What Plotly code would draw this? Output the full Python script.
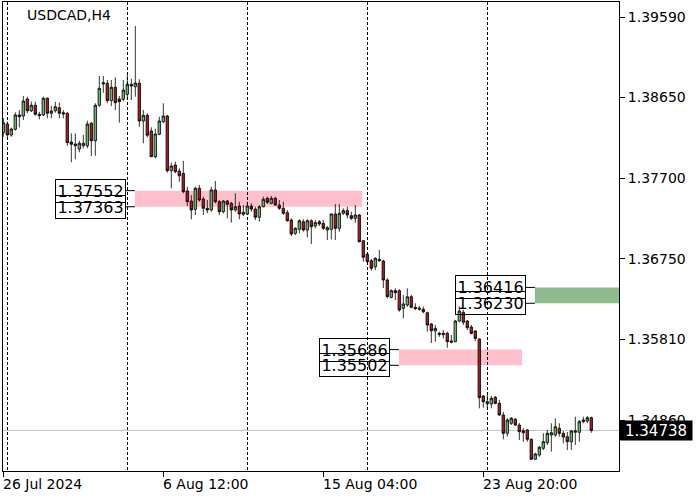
import plotly.graph_objects as go

symbol_title = "USDCAD,H4"

opens = [1.38232, 1.38334, 1.38205, 1.38272, 1.38440, 1.38428, 1.38628, 1.38490, 1.38554, 1.38448,
         1.38440, 1.38636, 1.38460, 1.38490, 1.38525, 1.38467, 1.38460, 1.38123, 1.38099, 1.38041,
         1.38079, 1.38079, 1.38342, 1.38138, 1.38554, 1.38804, 1.38812, 1.38608, 1.38765, 1.38628,
         1.38624, 1.38683, 1.38800, 1.38772, 1.38812, 1.38369, 1.38436, 1.38252, 1.37950, 1.38213,
         1.38361, 1.38428, 1.37786, 1.37853, 1.37782, 1.37754, 1.37548, 1.37430, 1.37333, 1.37579,
         1.37454, 1.37345, 1.37325, 1.37560, 1.37422, 1.37305, 1.37430, 1.37403, 1.37325, 1.37372,
         1.37274, 1.37278, 1.37372, 1.37336, 1.37239, 1.37363, 1.37462, 1.37403, 1.37462, 1.37383,
         1.37345, 1.37293, 1.37207, 1.37051, 1.37098, 1.37187, 1.37090, 1.37199, 1.37137, 1.37187,
         1.37168, 1.37090, 1.37098, 1.37278, 1.37110, 1.37286, 1.37317, 1.37258, 1.37227, 1.37266,
         1.36964, 1.36805, 1.36730, 1.36659, 1.36746, 1.36726, 1.36503, 1.36300, 1.36378, 1.36378,
         1.36171, 1.36210, 1.36307, 1.36183, 1.36159, 1.36159, 1.36119, 1.35987, 1.35905, 1.35877,
         1.35861, 1.35877, 1.35772, 1.35779, 1.36022, 1.36124, 1.36022, 1.35951, 1.35905, 1.35811,
         1.35142, 1.35051, 1.35048, 1.35126, 1.35056, 1.34919, 1.34704, 1.34821, 1.34868, 1.34801,
         1.34734, 1.34743, 1.34633, 1.34399, 1.34449, 1.34528, 1.34593, 1.34684, 1.34684, 1.34763,
         1.34704, 1.34664, 1.34605, 1.34716, 1.34716, 1.34840, 1.34848, 1.34887]

highs = [1.38405, 1.38361, 1.38291, 1.38471, 1.38498, 1.38663, 1.38655, 1.38596, 1.38596, 1.38478,
         1.38655, 1.38647, 1.38545, 1.38596, 1.38584, 1.38498, 1.38475, 1.38225, 1.38225, 1.38138,
         1.38205, 1.38373, 1.38358, 1.38577, 1.38897, 1.38897, 1.38851, 1.38851, 1.38882, 1.38663,
         1.38851, 1.38909, 1.38862, 1.39484, 1.38859, 1.38498, 1.38460, 1.38295, 1.38279, 1.38420,
         1.38577, 1.38440, 1.37880, 1.37892, 1.37814, 1.37903, 1.37598, 1.37501, 1.37598, 1.37618,
         1.37481, 1.37442, 1.37598, 1.37665, 1.37442, 1.37442, 1.37442, 1.37422, 1.37521, 1.37422,
         1.37383, 1.37422, 1.37403, 1.37363, 1.37383, 1.37481, 1.37481, 1.37489, 1.37481, 1.37442,
         1.37422, 1.37325, 1.37227, 1.37122, 1.37216, 1.37216, 1.37216, 1.37216, 1.37207, 1.37207,
         1.37207, 1.37137, 1.37286, 1.37395, 1.37395, 1.37345, 1.37363, 1.37305, 1.37383, 1.37278,
         1.36973, 1.36816, 1.36750, 1.36770, 1.36855, 1.36738, 1.36523, 1.36394, 1.36406, 1.36394,
         1.36327, 1.36406, 1.36327, 1.36230, 1.36198, 1.36190, 1.36131, 1.35998, 1.35975, 1.35896,
         1.35916, 1.35896, 1.35858, 1.36034, 1.36190, 1.36151, 1.36034, 1.35975, 1.35916, 1.35819,
         1.35154, 1.35154, 1.35142, 1.35142, 1.35095, 1.34954, 1.34880, 1.34895, 1.34883, 1.34825,
         1.34763, 1.34754, 1.34645, 1.34476, 1.34555, 1.34704, 1.34743, 1.34821, 1.34880, 1.34821,
         1.34731, 1.34719, 1.34743, 1.34899, 1.34860, 1.34899, 1.34907, 1.34899]

lows = [1.38185, 1.38178, 1.38185, 1.38256, 1.38295, 1.38381, 1.38460, 1.38475, 1.38432, 1.38389,
        1.38428, 1.38401, 1.38401, 1.38467, 1.38401, 1.38401, 1.38079, 1.37885, 1.37920, 1.38002,
        1.38049, 1.38049, 1.37958, 1.37962, 1.38537, 1.38702, 1.38577, 1.38545, 1.38498, 1.38349,
        1.38601, 1.38624, 1.38616, 1.38655, 1.38302, 1.38108, 1.38178, 1.37947, 1.37932, 1.38202,
        1.38342, 1.37763, 1.37579, 1.37756, 1.37657, 1.37521, 1.37372, 1.37216, 1.37266, 1.37422,
        1.37266, 1.37286, 1.37305, 1.37403, 1.37266, 1.37286, 1.37227, 1.37176, 1.37305, 1.37216,
        1.37254, 1.37266, 1.37305, 1.37207, 1.37187, 1.37356, 1.37395, 1.37392, 1.37372, 1.37325,
        1.37266, 1.37187, 1.37020, 1.37031, 1.37051, 1.37070, 1.37004, 1.36926, 1.37110, 1.37137,
        1.37090, 1.36973, 1.36981, 1.36973, 1.37070, 1.37266, 1.37227, 1.37207, 1.37176, 1.36944,
        1.36718, 1.36699, 1.36612, 1.36621, 1.36718, 1.36409, 1.36288, 1.36288, 1.36268, 1.36131,
        1.36054, 1.36190, 1.36171, 1.36151, 1.36143, 1.36112, 1.35896, 1.35764, 1.35779, 1.35836,
        1.35818, 1.35708, 1.35760, 1.35772, 1.36007, 1.35975, 1.35916, 1.35865, 1.35787, 1.34997,
        1.35005, 1.35001, 1.34997, 1.35044, 1.34907, 1.34633, 1.34664, 1.34801, 1.34789, 1.34625,
        1.34605, 1.34605, 1.34390, 1.34390, 1.34429, 1.34508, 1.34567, 1.34488, 1.34664, 1.34664,
        1.34586, 1.34508, 1.34508, 1.34567, 1.34605, 1.34821, 1.34825, 1.34711]

closes = [1.38349, 1.38205, 1.38275, 1.38440, 1.38420, 1.38604, 1.38490, 1.38554, 1.38448, 1.38432,
          1.38636, 1.38460, 1.38487, 1.38537, 1.38460, 1.38452, 1.38115, 1.38096, 1.38079, 1.38108,
          1.38108, 1.38334, 1.38138, 1.38554, 1.38753, 1.38819, 1.38608, 1.38765, 1.38584, 1.38596,
          1.38733, 1.38800, 1.38780, 1.38815, 1.38369, 1.38436, 1.38202, 1.37950, 1.38217, 1.38369,
          1.38428, 1.37786, 1.37841, 1.37774, 1.37727, 1.37540, 1.37422, 1.37325, 1.37579, 1.37442,
          1.37345, 1.37325, 1.37560, 1.37422, 1.37305, 1.37430, 1.37392, 1.37325, 1.37363, 1.37278,
          1.37298, 1.37372, 1.37336, 1.37239, 1.37363, 1.37450, 1.37415, 1.37462, 1.37383, 1.37345,
          1.37286, 1.37199, 1.37043, 1.37110, 1.37199, 1.37090, 1.37199, 1.37129, 1.37176, 1.37161,
          1.37110, 1.37117, 1.37278, 1.37110, 1.37286, 1.37317, 1.37266, 1.37227, 1.37266, 1.36953,
          1.36770, 1.36718, 1.36640, 1.36758, 1.36730, 1.36503, 1.36307, 1.36378, 1.36354, 1.36151,
          1.36222, 1.36307, 1.36183, 1.36167, 1.36171, 1.36131, 1.35975, 1.35908, 1.35936, 1.35865,
          1.35877, 1.35779, 1.35787, 1.36022, 1.36139, 1.36007, 1.35943, 1.35877, 1.35818, 1.35122,
          1.35075, 1.35075, 1.35115, 1.35056, 1.34919, 1.34704, 1.34860, 1.34880, 1.34801, 1.34723,
          1.34711, 1.34633, 1.34399, 1.34461, 1.34540, 1.34605, 1.34704, 1.34711, 1.34781, 1.34704,
          1.34660, 1.34605, 1.34731, 1.34731, 1.34840, 1.34860, 1.34887, 1.34738]

bar_index = list(range(len(opens)))

date_tick_bars = [0, 40, 80, 120]
date_tick_labels = ["26 Jul 2024", "6 Aug 12:00", "15 Aug 04:00", "23 Aug 20:00"]
week_start_bars = [1, 31, 61, 91, 121]

price_ticks = [1.39590, 1.38650, 1.37700, 1.36750, 1.35810, 1.34860]
last_price = 1.34738

zone_upper = [1.37552, 1.35686, 1.36416]
zone_lower = [1.37363, 1.35502, 1.36230]
zone_start = [32.9, 98.9, 132.9]
zone_end = [89.7, 129.7, 156.0]
zone_colors = ["#FFC0CB", "#FFC0CB", "#8FBC8F"]

FONT = "DejaVu Sans"
BULL = "#6FAF6F"
BEAR = "#9A2020"

fig = go.Figure(go.Candlestick(
    x=bar_index, open=opens, high=highs, low=lows, close=closes,
    increasing=dict(line=dict(color="black", width=0.8), fillcolor=BULL),
    decreasing=dict(line=dict(color="black", width=0.8), fillcolor=BEAR),
    whiskerwidth=0, hoverinfo="skip", showlegend=False,
))

shapes = []
annotations = []

# zones
for up, lo, x0, x1, col in zip(zone_upper, zone_lower, zone_start, zone_end, zone_colors):
    shapes.append(dict(type="rect", xref="x", yref="y", x0=x0, x1=x1, y0=lo, y1=up,
                       fillcolor=col, line=dict(width=0), layer="below"))
    for lvl in (up, lo):
        shapes.append(dict(type="line", xref="x", yref="y", xsizemode="pixel", xanchor=x0,
                           x0=-9, x1=0, y0=lvl, y1=lvl, line=dict(color="black", width=1)))
        annotations.append(dict(x=x0, y=lvl, xref="x", yref="y", xanchor="right", yanchor="middle",
                                xshift=-9, text=f"{lvl:.5f}", showarrow=False, width=69, height=22,
                                bordercolor="black", borderwidth=1, borderpad=0,
                                bgcolor="rgba(0,0,0,0)", font=dict(family=FONT, size=16, color="black")))

# last price line + label
shapes.append(dict(type="line", xref="paper", yref="y", x0=0, x1=1, y0=last_price, y1=last_price,
                   line=dict(color="#C0C0C0", width=1), layer="below"))
annotations.append(dict(x=1, y=last_price, xref="paper", yref="y", xanchor="left", yanchor="middle",
                        text=f"{last_price:.5f}", showarrow=False, width=72, height=19, borderpad=0,
                        bgcolor="black", font=dict(family=FONT, size=15, color="white")))

# title
annotations.append(dict(x=0, y=1, xref="paper", yref="paper", xanchor="left", yanchor="top",
                        xshift=22, yshift=-3, text=symbol_title, showarrow=False,
                        font=dict(family=FONT, size=14, color="black")))

# date labels (left-aligned at ticks)
for b, lab in zip(date_tick_bars, date_tick_labels):
    annotations.append(dict(x=b, y=0, xref="x", yref="paper", xanchor="left", yanchor="top",
                            xshift=-2, yshift=-3, text=lab, showarrow=False,
                            font=dict(family=FONT, size=14, color="black")))

fig.update_layout(
    width=700, height=500,
    margin=dict(l=3, r=81, t=2, b=29),
    paper_bgcolor="white", plot_bgcolor="white",
    showlegend=False, boxgap=0.12,
    shapes=shapes, annotations=annotations,
    font=dict(family=FONT, size=14, color="black"),
    xaxis=dict(range=[-0.08, 153.92], showgrid=False, zeroline=False,
               showline=True, linecolor="black", linewidth=1, mirror=True,
               ticks="outside", ticklen=5, tickcolor="black", tickmode="array",
               tickvals=date_tick_bars, showticklabels=False,
               rangeslider=dict(visible=False),
               minor=dict(tickmode="array", tickvals=week_start_bars, showgrid=True,
                          gridcolor="black", gridwidth=1, griddash="3px,2px", ticks="")),
    yaxis=dict(side="right", range=[1.342614, 1.397661], showgrid=False, zeroline=False,
               showline=True, linecolor="black", linewidth=1, mirror=True,
               ticks="outside", ticklen=5, tickcolor="black", tickmode="array",
               tickvals=price_ticks, ticktext=[f"{v:.5f}" for v in price_ticks],
               tickfont=dict(family=FONT, size=14, color="black")),
)

fig.write_html("out.html", config={"displayModeBar": False},
               post_script="document.body.style.margin='0';document.body.style.padding='0';")
